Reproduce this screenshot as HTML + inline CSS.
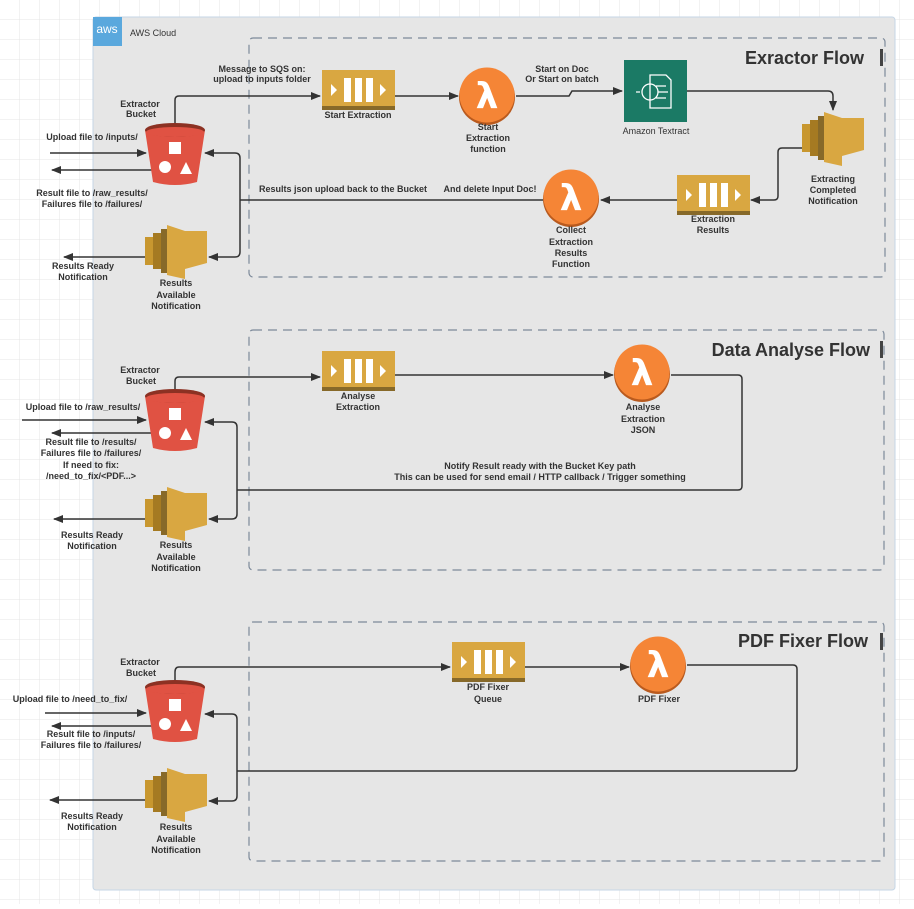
<!DOCTYPE html>
<html><head><meta charset="utf-8"><style>
html,body{margin:0;padding:0;background:#fff}
svg text{font-family:"Liberation Sans",Arial,sans-serif;fill:#333}
.s{font-size:9px;font-weight:bold}
.t{font-size:18px;font-weight:bold}
</style></head><body>
<svg width="914" height="904" viewBox="0 0 914 904" xmlns="http://www.w3.org/2000/svg">
<defs>
<pattern id="g" width="20" height="20" patternUnits="userSpaceOnUse"><path d="M20 0V20H0" fill="none" stroke="#e4e4e4" stroke-width="1"/></pattern>
<marker id="a" markerWidth="10" markerHeight="8" refX="9" refY="4" orient="auto" markerUnits="userSpaceOnUse"><path d="M0 0L10 4L0 8z" fill="#333"/></marker>
<g id="bucket">
<path d="M-30 -22 L30 -22 L22 30 Q0 36 -22 30 Z" fill="#e05243"/>
<ellipse cx="0" cy="-22" rx="30" ry="7" fill="#8c3123"/>
<ellipse cx="0" cy="-20" rx="29" ry="5" fill="#e05243"/>
<rect x="-6" y="-10" width="12" height="12" fill="#fff"/>
<circle cx="-10" cy="15" r="6" fill="#fff"/>
<path d="M5 22L11 10L17 22z" fill="#fff"/>
</g>
<g id="sqs">
<rect x="0" y="0" width="73" height="40" fill="#d9a741"/>
<rect x="0" y="36" width="73" height="4" fill="#876929"/>
<rect x="22" y="8" width="7" height="24" fill="#fff"/><rect x="33" y="8" width="7" height="24" fill="#fff"/><rect x="44" y="8" width="7" height="24" fill="#fff"/>
<path d="M9 14L15 20L9 26z" fill="#fff"/><path d="M58 14L64 20L58 26z" fill="#fff"/>
</g>
<g id="lam">
<circle cx="0" cy="2" r="28" fill="#b95a1e"/>
<circle cx="0" cy="0" r="27.5" fill="#f58536"/>
<text x="0" y="13" text-anchor="middle" style="font-size:36px;font-weight:bold;fill:#fff;font-family:'DejaVu Sans',sans-serif">λ</text>
</g>
<g id="sns">
<path d="M0 12H8V40H0z" fill="#c8972f"/>
<path d="M8 8H16V44H8z" fill="#a57a22"/>
<path d="M16 4H22V48H16z" fill="#876929"/>
<path d="M22 0L40 6H62V38L40 44L40 54L22 50z" fill="#d9a741"/>
</g>
</defs>
<rect width="914" height="904" fill="url(#g)"/>
<rect x="93" y="17" width="802" height="873" rx="3" fill="#e6e6e6" stroke="#c5d6e6"/>
<rect x="93" y="17" width="29" height="29" fill="#5aa8dd"/>
<text x="107" y="33" text-anchor="middle" style="font-size:12px;fill:#fff">aws</text>
<text x="130" y="36" style="font-size:9px">AWS Cloud</text>
<g fill="none" stroke="#7d8a9a" stroke-dasharray="9,6" stroke-width="1.2">
<rect x="249" y="38" width="636" height="239" rx="4"/>
<rect x="249" y="330" width="635" height="240" rx="4"/>
<rect x="249" y="622" width="635" height="239" rx="4"/>
</g>
<text x="864" y="64" text-anchor="end" class="t">Exractor Flow</text><rect x="880" y="49" width="3" height="17" fill="#444"/>
<text x="870" y="356" text-anchor="end" class="t">Data Analyse Flow</text><rect x="880" y="341" width="3" height="17" fill="#444"/>
<text x="868" y="647" text-anchor="end" class="t">PDF Fixer Flow</text><rect x="880" y="633" width="3" height="17" fill="#444"/>

<g fill="none" stroke="#333" stroke-width="1.5">
<path d="M175 123V100Q175 96 179 96H320" marker-end="url(#a)"/>
<path d="M395 96H458" marker-end="url(#a)"/>
<path d="M516 96H569L572 91H622" marker-end="url(#a)"/>
<path d="M686 91H828Q833 91 833 96V110" marker-end="url(#a)"/>
<path d="M802 148H782Q778 148 778 152V196Q778 200 774 200H751" marker-end="url(#a)"/>
<path d="M677 200H601" marker-end="url(#a)"/>
<path d="M543 200H240"/>
<path d="M240 200V158Q240 153 235 153H205" marker-end="url(#a)"/>
<path d="M240 200V252Q240 257 235 257H209" marker-end="url(#a)"/>
<path d="M50 153H146" marker-end="url(#a)"/>
<path d="M152 170H52" marker-end="url(#a)"/>
<path d="M145 257H64" marker-end="url(#a)"/>
<path d="M175 390V381Q175 377 179 377H320" marker-end="url(#a)"/>
<path d="M395 375H613" marker-end="url(#a)"/>
<path d="M671 375H738Q742 375 742 379V486Q742 490 738 490H237"/>
<path d="M237 490V427Q237 422 232 422H205" marker-end="url(#a)"/>
<path d="M237 490V514Q237 519 232 519H209" marker-end="url(#a)"/>
<path d="M22 420H146" marker-end="url(#a)"/>
<path d="M152 433H52" marker-end="url(#a)"/>
<path d="M145 519H54" marker-end="url(#a)"/>
<path d="M175 680V672Q175 667 179 667H450" marker-end="url(#a)"/>
<path d="M525 667H629" marker-end="url(#a)"/>
<path d="M687 665H793Q797 665 797 669V767Q797 771 793 771H237"/>
<path d="M237 771V719Q237 714 232 714H205" marker-end="url(#a)"/>
<path d="M237 771V796Q237 801 232 801H209" marker-end="url(#a)"/>
<path d="M45 713H146" marker-end="url(#a)"/>
<path d="M152 726H52" marker-end="url(#a)"/>
<path d="M145 800H50" marker-end="url(#a)"/>
</g>

<use href="#bucket" x="175" y="152"/>
<use href="#sqs" x="322" y="70"/>
<use href="#lam" x="487" y="95"/>
<rect x="624" y="60" width="63" height="62" fill="#1b7a65"/>
<g fill="none" stroke="#fff" stroke-width="1.3"><path d="M650 75h16l5 5v28h-21z"/><circle cx="650" cy="92" r="8"/><path d="M640 92h-4M656 86h10M658 92h10M656 98h10"/></g>
<use href="#sqs" x="677" y="175"/>
<use href="#lam" x="571" y="197"/>
<use href="#sns" x="802" y="112"/>
<use href="#sns" x="145" y="225"/>
<use href="#bucket" x="175" y="418"/>
<use href="#sqs" x="322" y="351"/>
<use href="#lam" x="642" y="372"/>
<use href="#sns" x="145" y="487"/>
<use href="#bucket" x="175" y="709"/>
<use href="#sqs" x="452" y="642"/>
<use href="#lam" x="658" y="664"/>
<use href="#sns" x="145" y="768"/>

<g class="s" text-anchor="middle">
<text x="262" y="72">Message to SQS on:</text><text x="262" y="82">upload to inputs folder</text>
<text x="140" y="107">Extractor</text><text x="141" y="117">Bucket</text>
<text x="92" y="140">Upload file to /inputs/</text>
<text x="92" y="196">Result file to /raw_results/</text><text x="92" y="207">Failures file to /failures/</text>
<text x="358" y="118">Start Extraction</text>
<text x="488" y="130">Start</text><text x="488" y="141">Extraction</text><text x="488" y="152">function</text>
<text x="562" y="72">Start on Doc</text><text x="562" y="82">Or Start on batch</text>
<text x="656" y="134" style="font-weight:normal">Amazon Textract</text>
<text x="833" y="182">Extracting</text><text x="833" y="193">Completed</text><text x="833" y="204">Notification</text>
<text x="713" y="222">Extraction</text><text x="713" y="233">Results</text>
<text x="571" y="233">Collect</text><text x="571" y="245">Extraction</text><text x="571" y="256">Results</text><text x="571" y="267">Function</text>
<text x="343" y="192">Results json upload back to the Bucket</text>
<text x="490" y="192">And delete Input Doc!</text>
<text x="83" y="269">Results Ready</text><text x="83" y="280">Notification</text>
<text x="176" y="286">Results</text><text x="176" y="298">Available</text><text x="176" y="309">Notification</text>

<text x="140" y="373">Extractor</text><text x="141" y="384">Bucket</text>
<text x="358" y="399">Analyse</text><text x="358" y="410">Extraction</text>
<text x="643" y="410">Analyse</text><text x="643" y="422">Extraction</text><text x="643" y="433">JSON</text>
<text x="83" y="410">Upload file to /raw_results/</text>
<text x="91" y="445">Result file to /results/</text><text x="91" y="456">Failures file to /failures/</text><text x="91" y="468">If need to fix:</text><text x="91" y="479">/need_to_fix/&lt;PDF...&gt;</text>
<text x="540" y="469">Notify Result ready with the Bucket Key path</text>
<text x="540" y="480">This can be used for send email / HTTP callback / Trigger something</text>
<text x="92" y="538">Results Ready</text><text x="92" y="549">Notification</text>
<text x="176" y="548">Results</text><text x="176" y="560">Available</text><text x="176" y="571">Notification</text>

<text x="140" y="665">Extractor</text><text x="141" y="676">Bucket</text>
<text x="70" y="702">Upload file to /need_to_fix/</text>
<text x="91" y="737">Result file to /inputs/</text><text x="91" y="748">Failures file to /failures/</text>
<text x="488" y="690">PDF Fixer</text><text x="488" y="702">Queue</text>
<text x="659" y="702">PDF Fixer</text>
<text x="92" y="819">Results Ready</text><text x="92" y="830">Notification</text>
<text x="176" y="830">Results</text><text x="176" y="842">Available</text><text x="176" y="853">Notification</text>
</g>
</svg>
</body></html>
